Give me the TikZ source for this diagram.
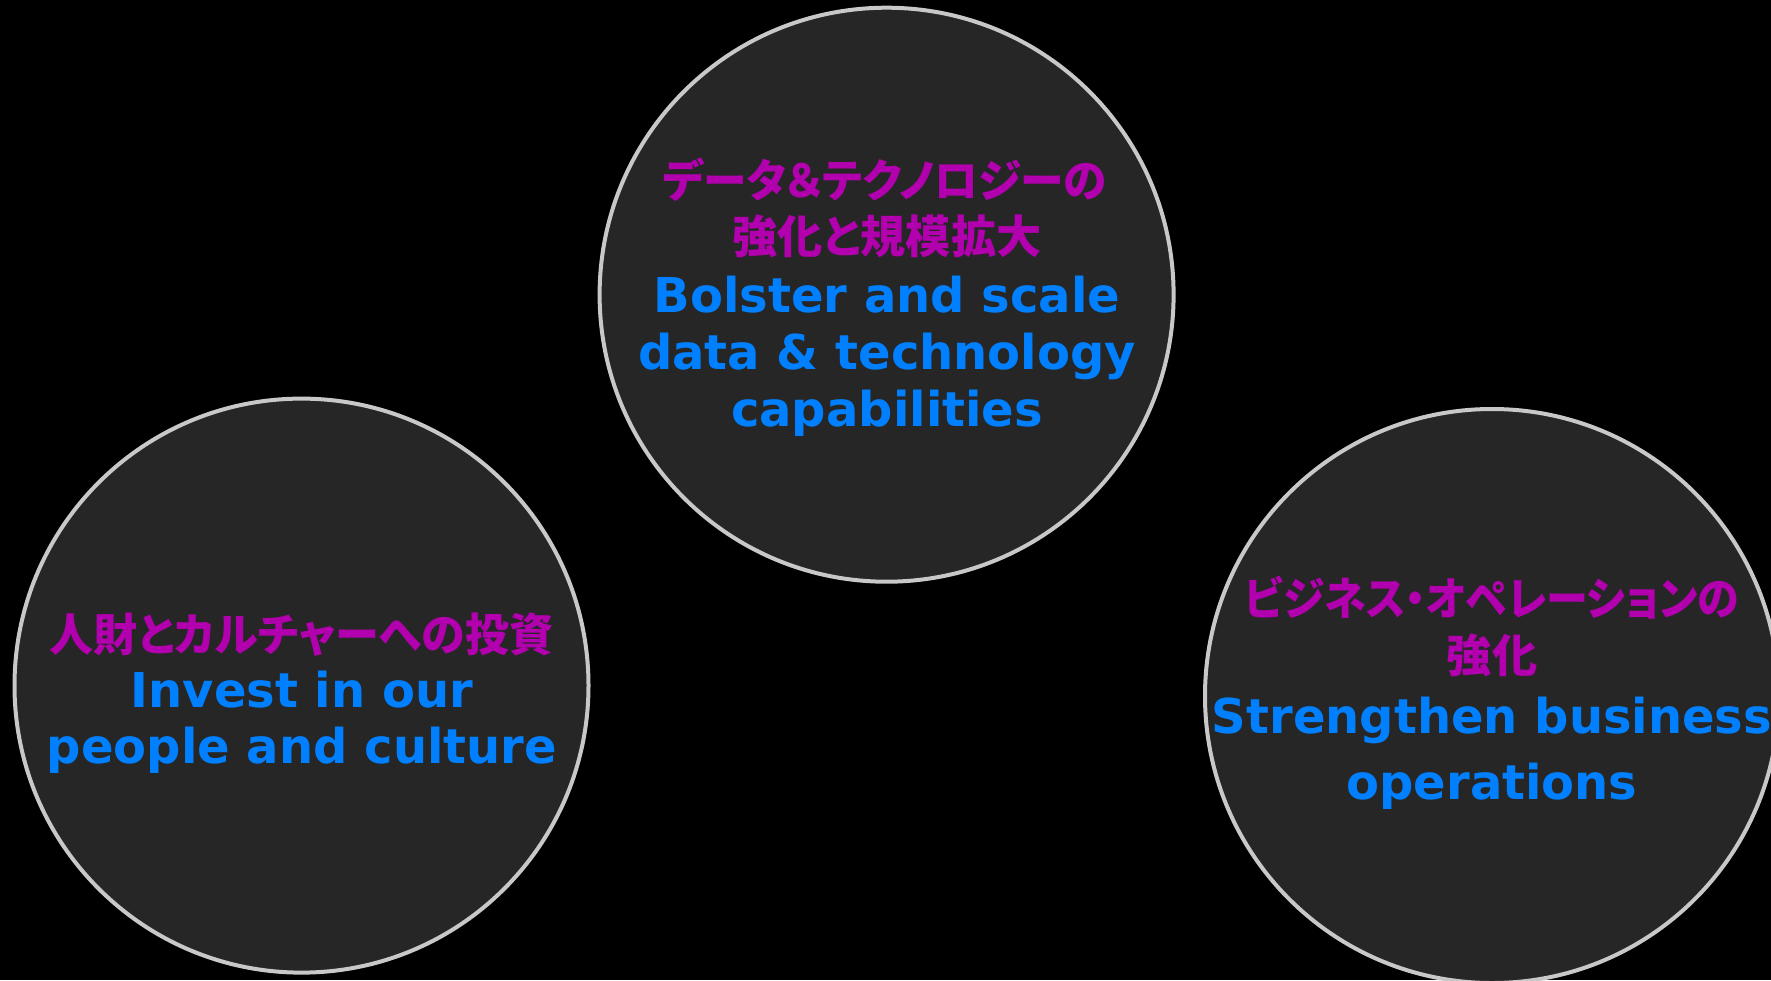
\documentclass[tikz,border=0pt]{standalone}
\usepackage{fontspec}
\newfontfamily\enfont{DejaVu Sans}
\newfontfamily\jpfont{Noto Sans CJK JP}[CharacterWidth=AlternateProportional]
\definecolor{bgblack}{RGB}{0,0,0}
\definecolor{discfill}{RGB}{38,38,38}
\definecolor{ringgray}{RGB}{200,200,200}
\definecolor{jpmagenta}{RGB}{178,0,174}
\definecolor{enblue}{RGB}{0,128,255}
\tikzset{
  disc/.style={circle, draw=ringgray, fill=discfill, line width=2pt, minimum size=287pt, inner sep=0pt},
  jpline/.style={anchor=base, inner sep=0pt, text=jpmagenta, font=\jpfont\bfseries\fontsize{22.6}{26}\selectfont},
  enline/.style={anchor=base, inner sep=0pt, text=enblue, font=\enfont\bfseries\fontsize{24}{28}\selectfont},
}
\begin{document}
\begin{tikzpicture}[x=0.5pt, y=-0.5pt]
\fill[bgblack] (0,0) rectangle (1771,980);
\useasboundingbox (0,0) rectangle (1771,980);
% top circle
\node[disc] (top) at (886.6,294.7) {};
\node[jpline] (t1) at (885,197) {\scalebox{0.966}[1]{データ＆テクノロジーの}};
\node[jpline] (t2) at (887,253.5) {強化と規模拡大};
\node[enline] (t3) at (887,312) {Bolster and scale};
\node[enline] (t4) at (887,369.3) {data \& technology};
\node[enline] (t5) at (887,426.7) {capabilities};
% left circle
\node[disc] (left) at (301.5,685.6) {};
\node[jpline] (l1) at (301.5,651) {\scalebox{0.974}[1]{人財とカルチャーへの投資}};
\node[enline] (l2) at (302,707.6) {Invest in our};
\node[enline] (l3) at (302,763) {people and culture};
% right circle
\node[disc] (right) at (1492,696) {};
\node[jpline] (r1) at (1492,615.5) {\scalebox{0.929}[1]{ビジネス・オペレーションの}};
\node[jpline] (r2) at (1492,672) {強化};
\node[enline] (r3) at (1492,733) {Strengthen business};
\node[enline] (r4) at (1492,799) {operations};
\end{tikzpicture}
\end{document}
